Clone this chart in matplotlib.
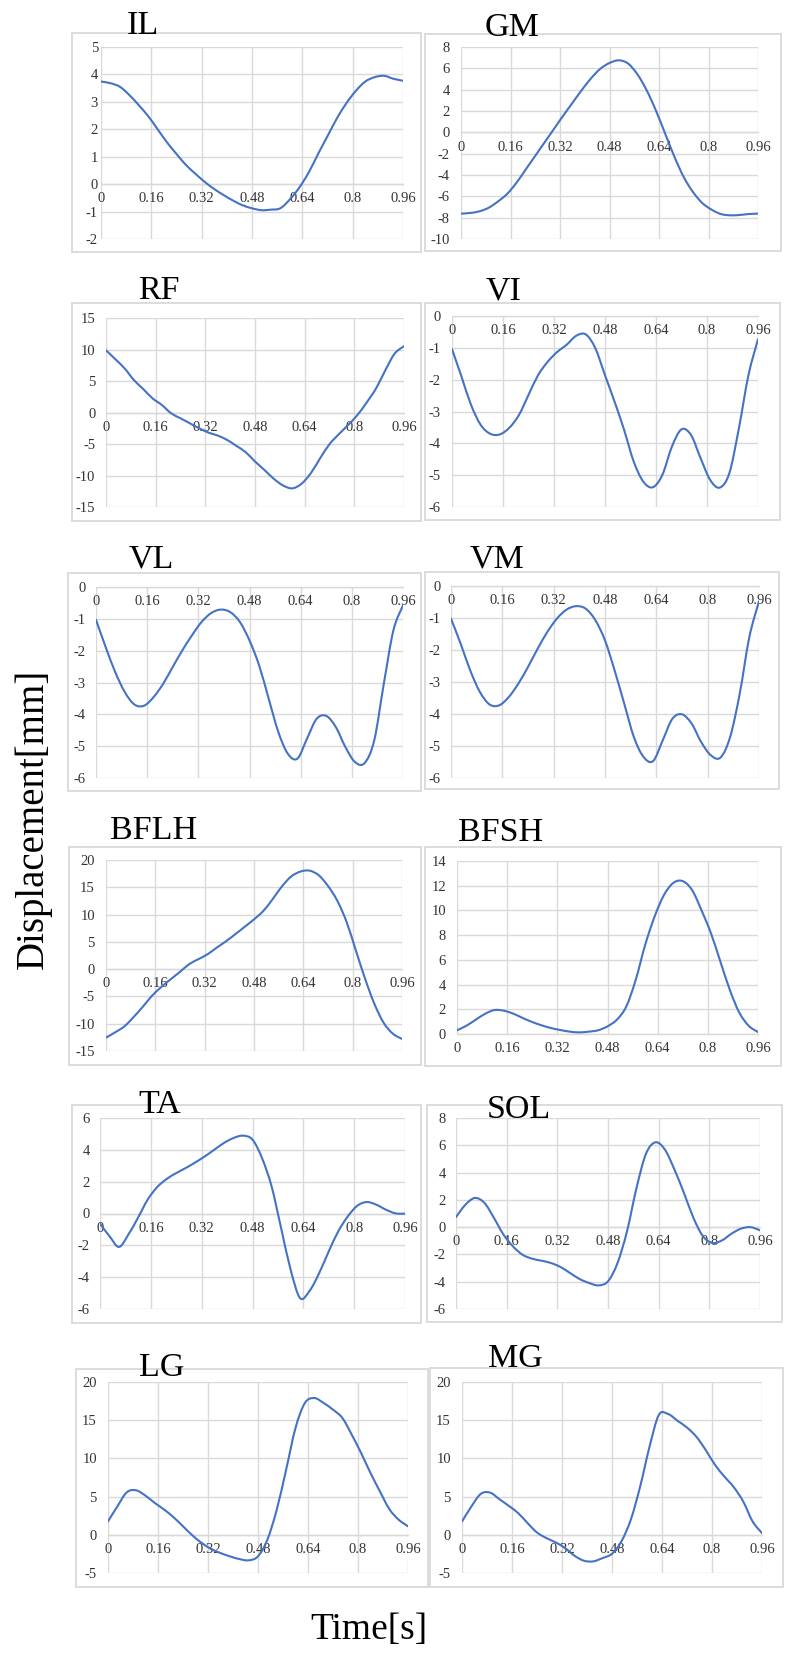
import matplotlib
matplotlib.use("Agg")
import matplotlib.pyplot as plt
from matplotlib.patches import Rectangle, PathPatch
from matplotlib.path import Path

W, H = 785, 1669

# sample times (s)
time = [0, 0.03, 0.06, 0.09, 0.12, 0.15, 0.18, 0.21, 0.24, 0.27, 0.30,
        0.33, 0.36, 0.39, 0.42, 0.45, 0.48, 0.51, 0.54, 0.57, 0.60, 0.63,
        0.66, 0.69, 0.72, 0.75, 0.78, 0.81, 0.84, 0.87, 0.90, 0.93, 0.96]

# displacement (mm) per muscle
il = [3.74, 3.68, 3.55, 3.25, 2.88, 2.48, 2.0, 1.52, 1.1, 0.7, 0.38,
      0.08, -0.18, -0.4, -0.6, -0.77, -0.88, -0.95, -0.93, -0.88, -0.56, -0.13,
      0.42, 1.1, 1.75, 2.4, 2.95, 3.4, 3.74, 3.9, 3.95, 3.84, 3.77]
gm = [-7.62, -7.56, -7.4, -7.06, -6.47, -5.75, -4.7, -3.45, -2.2, -0.95, 0.3,
      1.55, 2.75, 3.95, 5.05, 5.95, 6.5, 6.75, 6.45, 5.45, 3.95, 2.05,
      -0.13, -2.3, -4.2, -5.6, -6.63, -7.25, -7.66, -7.78, -7.75, -7.66, -7.62]
rf = [9.88, 8.46, 7.0, 5.14, 3.72, 2.24, 1.19, -0.13, -0.92, -1.71, -2.5,
      -3.19, -3.66, -4.35, -5.3, -6.3, -7.78, -9.1, -10.5, -11.57, -12.04, -11.3,
      -9.62, -7.25, -5.03, -3.45, -1.98, -0.4, 1.61, 3.82, 6.72, 9.36, 10.52]
vi = [-1.04, -1.91, -2.8, -3.42, -3.7, -3.72, -3.51, -3.11, -2.48, -1.86, -1.44,
      -1.13, -0.9, -0.62, -0.58, -1.02, -1.86, -2.69, -3.58, -4.57, -5.2, -5.38,
      -4.99, -4.1, -3.56, -3.74, -4.47, -5.15, -5.39, -4.94, -3.53, -1.86, -0.73]
vl = [-1.03, -1.88, -2.67, -3.3, -3.69, -3.73, -3.46, -3.04, -2.51, -1.99, -1.52,
      -1.1, -0.82, -0.71, -0.79, -1.1, -1.68, -2.46, -3.51, -4.55, -5.24, -5.39,
      -4.76, -4.14, -4.05, -4.4, -5.03, -5.5, -5.53, -4.82, -3.04, -1.36, -0.58]
vm = [-1.02, -1.8, -2.64, -3.31, -3.7, -3.73, -3.47, -3.05, -2.53, -1.96, -1.44,
      -1.02, -0.74, -0.63, -0.71, -1.07, -1.7, -2.64, -3.68, -4.72, -5.34, -5.47,
      -4.82, -4.15, -4.01, -4.3, -4.88, -5.29, -5.36, -4.72, -3.36, -1.59, -0.48]
bflh = [-12.55, -11.57, -10.47, -8.75, -6.85, -4.83, -3.24, -1.84, -0.49, 0.92, 1.84,
        2.75, 3.98, 5.14, 6.43, 7.77, 9.12, 10.65, 12.79, 15.12, 16.95, 17.87,
        18.05, 17.2, 15.24, 12.55, 8.69, 3.49, -1.71, -6.3, -9.79, -11.81, -12.79]
bfsh = [0.3, 0.67, 1.16, 1.64, 1.94, 1.88, 1.64, 1.29, 0.97, 0.7, 0.48,
        0.32, 0.19, 0.13, 0.19, 0.3, 0.62, 1.16, 2.23, 4.38, 7.2, 9.49,
        11.24, 12.23, 12.37, 11.64, 10.0, 8.15, 5.86, 3.58, 1.75, 0.67, 0.16]
ta = [-0.64, -1.43, -2.1, -1.3, -0.25, 0.87, 1.66, 2.17, 2.54, 2.86, 3.21,
      3.59, 4.01, 4.43, 4.74, 4.89, 4.64, 3.48, 1.71, -0.91, -3.53, -5.32,
      -4.85, -3.74, -2.38, -1.12, -0.18, 0.49, 0.72, 0.55, 0.24, 0.01, -0.01]
sol = [0.74, 1.65, 2.14, 1.77, 0.67, -0.55, -1.41, -2.02, -2.31, -2.46, -2.63,
       -2.92, -3.36, -3.8, -4.09, -4.27, -3.97, -2.63, -0.31, 2.87, 5.38, 6.22,
       5.67, 4.21, 2.5, 0.67, -0.67, -1.16, -0.97, -0.48, -0.11, 0.0, -0.23]
lg = [1.76, 3.72, 5.56, 5.82, 5.12, 4.16, 3.29, 2.29, 1.11, -0.07, -1.07,
      -1.86, -2.39, -2.82, -3.17, -3.34, -2.82, -0.64, 3.29, 8.52, 13.98, 17.25,
      17.9, 17.25, 16.38, 15.29, 13.1, 10.7, 8.09, 5.69, 3.38, 1.98, 1.11]
mg = [1.74, 3.7, 5.35, 5.52, 4.65, 3.78, 2.83, 1.52, 0.3, -0.43, -1.0,
      -1.74, -2.74, -3.39, -3.48, -3.04, -2.48, -0.87, 1.96, 6.3, 11.52, 15.7,
      15.8, 14.91, 14.04, 12.83, 11.09, 9.13, 7.61, 6.22, 4.35, 1.74, 0.22]

names = ["IL", "GM", "RF", "VI", "VL", "VM", "BFLH", "BFSH", "TA", "SOL", "LG", "MG"]
series = [il, gm, rf, vi, vl, vm, bflh, bfsh, ta, sol, lg, mg]
y_ranges = [(-2, 5, 1), (-10, 8, 2), (-15, 15, 5), (-6, 0, 1), (-6, 0, 1), (-6, 0, 1),
            (-15, 20, 5), (0, 14, 2), (-6, 6, 2), (-6, 8, 2), (-5, 20, 5), (-5, 20, 5)]
x_ticks = [0, 0.16, 0.32, 0.48, 0.64, 0.8, 0.96]
x_labels = ["0", "0.16", "0.32", "0.48", "0.64", "0.8", "0.96"]

# layout in pixels (left, top, right, bottom)
plot_px = [(101, 47, 403, 239), (461, 47, 758, 239),
           (106, 318, 404, 507), (452, 316, 758, 507),
           (96, 587, 403, 778), (451, 586, 759, 778),
           (106, 860, 402, 1051), (457, 861, 758, 1034),
           (100, 1118, 405, 1309), (456, 1118, 760, 1309),
           (108, 1382, 408, 1573), (462, 1382, 762, 1573)]
box_px = [(72, 33, 421, 252), (425, 34, 781, 251),
          (72, 303, 421, 521), (425, 303, 780, 520),
          (68, 573, 421, 791), (425, 572, 779, 789),
          (69, 847, 421, 1065), (425, 847, 781, 1066),
          (72, 1105, 421, 1323), (427, 1105, 782, 1322),
          (76, 1369, 428, 1587), (430, 1368, 783, 1587)]
title_px = [(143, 34), (512, 36), (159, 299), (504, 299), (151, 567), (497, 568),
            (154, 839), (501, 841), (160, 1113), (519, 1118), (162, 1376), (515, 1367)]
ypads = [2.2, 8.0, 7.7, 8.0, 7.7, 7.4, 8.0, 8.0, 7.4, 7.4, 8.0, 8.0]


def smooth_path(x, y):
    # Excel-style "smoothed line": cubic Bezier segments through the data points
    verts = [(x[0], y[0])]
    codes = [Path.MOVETO]
    n = len(x)
    for k in range(n - 1):
        xp, yp = (x[k - 1], y[k - 1]) if k > 0 else (x[k], y[k])
        xn, yn = (x[k + 2], y[k + 2]) if k + 2 < n else (x[k + 1], y[k + 1])
        c1 = (x[k] + (x[k + 1] - xp) / 6, y[k] + (y[k + 1] - yp) / 6)
        c2 = (x[k + 1] - (xn - x[k]) / 6, y[k + 1] - (yn - y[k]) / 6)
        verts += [c1, c2, (x[k + 1], y[k + 1])]
        codes += [Path.CURVE4] * 3
    return Path(verts, codes)


plt.rcParams["font.family"] = ["Liberation Serif", "DejaVu Serif"]

fig = plt.figure(figsize=(W / 100, H / 100), dpi=100)
fig.patch.set_facecolor("white")

grid_col = "#d9d9d9"
line_col = "#4472C4"
tick_col = "#333333"

for i in range(12):
    l, t, r, b = box_px[i]
    fig.add_artist(Rectangle((l / W, 1 - b / H), (r - l) / W, (b - t) / H,
                             transform=fig.transFigure, fill=False,
                             edgecolor=grid_col, lw=1.3))

    l, t, r, b = plot_px[i]
    ax = fig.add_axes([l / W, 1 - b / H, (r - l) / W, (b - t) / H])
    lo, hi, step = y_ranges[i]
    ax.add_patch(PathPatch(smooth_path(time, series[i]), fill=False,
                           edgecolor=line_col, lw=1.5, zorder=3,
                           capstyle="round", joinstyle="round"))

    ax.set_xlim(0, 0.96)
    ax.set_ylim(lo, hi)
    ax.set_xticks(x_ticks)
    ax.set_xticklabels(x_labels)
    yt = list(range(lo, hi + 1, step))
    ax.set_yticks(yt)
    ax.set_yticklabels([str(v) for v in yt])

    ax.grid(True, color=grid_col, lw=1.0)
    ax.set_axisbelow(True)
    for side in ["top", "right", "left"]:
        ax.spines[side].set_visible(False)
    ax.spines["bottom"].set_position(("data", 0))
    ax.spines["bottom"].set_color(grid_col)
    ax.spines["bottom"].set_linewidth(1.0)

    ax.tick_params(length=0, labelsize=10.5, colors=tick_col)
    ax.tick_params(axis="x", pad=6)
    ax.tick_params(axis="y", pad=ypads[i])

    tx, ty = title_px[i]
    fig.text(tx / W, 1 - ty / H, names[i], fontsize=24.5, ha="center",
             va="baseline", color="black")

fig.text(33 / W, 1 - 819 / H, "Displacement[mm]", rotation=90, fontsize=28,
         ha="center", va="center")
fig.text(369 / W, 1 - 1630 / H, "Time[s]", fontsize=27, ha="center", va="center")

fig.savefig("out.png", dpi=100)
